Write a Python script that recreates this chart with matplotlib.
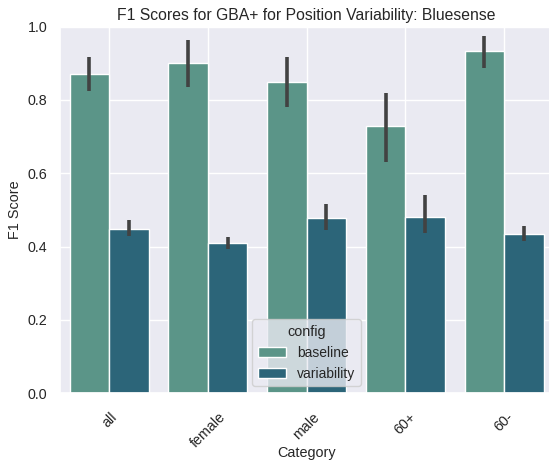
import numpy as np
import matplotlib
matplotlib.use("Agg")
import matplotlib.pyplot as plt
import seaborn as sns

sns.set_theme(style="darkgrid")
plt.rcParams['font.family'] = ['Liberation Sans', 'DejaVu Sans']

categories = ['all', 'female', 'male', '60+', '60-']
configs = ['baseline', 'variability']

# mean F1 and the lower/upper ends of the confidence interval
baseline_f1 = [0.871, 0.902, 0.850, 0.729, 0.934]
baseline_lo = [0.825, 0.835, 0.780, 0.632, 0.887]
baseline_hi = [0.918, 0.963, 0.917, 0.818, 0.974]

variability_f1 = [0.449, 0.409, 0.479, 0.482, 0.434]
variability_lo = [0.430, 0.394, 0.445, 0.438, 0.415]
variability_hi = [0.473, 0.427, 0.516, 0.541, 0.457]

colors = ['#5b9588', '#2c6579']

fig = plt.figure(figsize=(5.49, 4.67), dpi=100)
ax = fig.add_axes([0.109, 0.158, 0.899, 0.785])

x = np.arange(len(categories))
width = 0.4
series = [
    (baseline_f1, baseline_lo, baseline_hi),
    (variability_f1, variability_lo, variability_hi),
]
for i, (vals, lo, hi) in enumerate(series):
    pos = x + (i - 0.5) * width
    ax.bar(pos, vals, width=width, color=colors[i], edgecolor='white',
           linewidth=1, label=configs[i], zorder=2)
    ax.vlines(pos, lo, hi, color='#424242', linewidth=2.6, zorder=3)

ax.set_xlim(-0.5, len(categories) - 0.5)
ax.set_ylim(0, 1.0)
ax.set_xticks(x)
ax.set_xticklabels(categories, rotation=45)
ax.tick_params(axis='y', labelsize=10.3, pad=3)
ax.tick_params(axis='x', labelsize=10.3, pad=6)
ax.set_xlabel('Category', fontsize=10.4)
ax.xaxis.set_label_coords(0.5, -0.143)
ax.set_ylabel('F1 Score', fontsize=10.4, labelpad=4)
ax.set_title('F1 Scores for GBA+ for Position Variability: Bluesense', fontsize=11.3, pad=5)
ax.legend(title='config', loc='lower center', fontsize=10, title_fontsize=10.4)

fig.savefig('out.png', dpi=100)
